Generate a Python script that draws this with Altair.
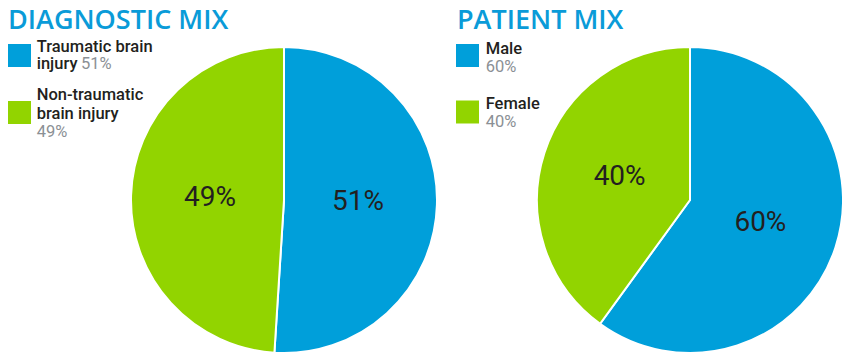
import altair as alt
import pandas as pd

# ---- data ----
diag_categories = ["Traumatic brain injury", "Non-traumatic brain injury"]
diag_values = [51, 49]
patient_categories = ["Male", "Female"]
patient_values = [60, 40]

diag_title = "DIAGNOSTIC MIX"
patient_title = "PATIENT MIX"
diag_legend_lines = [["Traumatic brain", "injury"], ["Non-traumatic", "brain injury"]]
patient_legend_lines = [["Male"], ["Female"]]

BLUE = "#009FDA"
GREEN = "#92D400"
DARK = "#231F20"
GRAY = "#8B9095"
TITLE_BLUE = "#0A9BD8"
FONT = "Roboto"
TITLE_FONT = "Open Sans"

color_scale = alt.Scale(
    domain=diag_categories + patient_categories,
    range=[BLUE, GREEN, BLUE, GREEN],
)


def pie_df(cats, vals):
    return pd.DataFrame({"category": cats, "value": vals, "order": list(range(len(cats)))})


def pie(df, cx, cy):
    base = alt.Chart(df).transform_calculate(label="datum.value + '%'").encode(
        theta=alt.Theta("value:Q", stack=True),
        order=alt.Order("order:Q"),
        x=alt.value(cx),
        y=alt.value(cy),
    )
    arc = base.mark_arc(radius=153, stroke="white", strokeWidth=2).encode(
        color=alt.Color("category:N", scale=color_scale, legend=None)
    )
    lbl = base.mark_text(radius=74, fontSize=28, font=FONT, color=DARK,
                         align="center", baseline="middle").encode(text="label:N")
    return [arc, lbl]


def text_mark(txt, x, y, size, color, weight="normal", line_height=None, font=FONT):
    kw = dict(font=font, fontSize=size, color=color, fontWeight=weight,
              align="left", baseline="alphabetic")
    if line_height is not None:
        kw["lineBreak"] = "\n"
        kw["lineHeight"] = line_height
    return alt.Chart(pd.DataFrame({"t": [txt]})).mark_text(**kw).encode(
        text="t:N", x=alt.value(x), y=alt.value(y)
    )


def square(cat, x, y):
    return alt.Chart(pd.DataFrame({"category": [cat]})).mark_square(
        size=529, opacity=1, filled=True
    ).encode(
        color=alt.Color("category:N", scale=color_scale, legend=None),
        x=alt.value(x), y=alt.value(y),
    )


LS = 16.5  # legend font size
LW = 500   # legend font weight

layers = []
layers += pie(pie_df(diag_categories, diag_values), 276, 192)
layers += pie(pie_df(patient_categories, patient_values), 682, 192)

# titles
layers.append(text_mark(diag_title, 0, 21, 27, TITLE_BLUE, weight=600, font=TITLE_FONT))
layers.append(text_mark(patient_title, 449, 21, 27, TITLE_BLUE, weight=600, font=TITLE_FONT))

# diagnostic legend
layers.append(square(diag_categories[0], 11.5, 47.5))
layers.append(square(diag_categories[1], 11.5, 104.5))
layers.append(text_mark("\n".join(diag_legend_lines[0]), 28.7, 43.5, LS, DARK, LW, 17.5))
layers.append(text_mark(f"{diag_values[0]}%", 73, 61, LS, GRAY))
layers.append(text_mark("\n".join(diag_legend_lines[1]), 28.7, 92, LS, DARK, LW, 18.5))
layers.append(text_mark(f"{diag_values[1]}%", 28.7, 129, LS, GRAY))

# patient legend
layers.append(square(patient_categories[0], 459.5, 47.5))
layers.append(square(patient_categories[1], 459.5, 104))
layers.append(text_mark(patient_legend_lines[0][0], 477.7, 46, LS, DARK, LW))
layers.append(text_mark(f"{patient_values[0]}%", 477.7, 64, LS, GRAY))
layers.append(text_mark(patient_legend_lines[1][0], 477.7, 101, LS, DARK, LW))
layers.append(text_mark(f"{patient_values[1]}%", 477.7, 119, LS, GRAY))

chart = alt.layer(*layers).properties(
    width=834, height=346, padding=0, autosize=alt.AutoSizeParams(type="none")
).configure_view(stroke=None)

chart.save("out.html", embed_options={"renderer": "svg", "actions": False})
